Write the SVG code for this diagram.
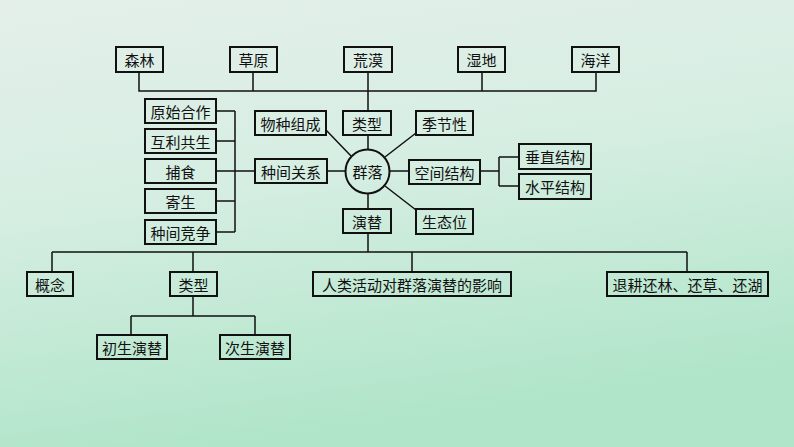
<svg xmlns="http://www.w3.org/2000/svg" width="794" height="447" viewBox="0 0 794 447">
<defs>
<linearGradient id="bg" x1="0" y1="0" x2="0.25" y2="1">
<stop offset="0" stop-color="#e4efea"/>
<stop offset="0.45" stop-color="#d6eee2"/>
<stop offset="1" stop-color="#b0e5c9"/>
</linearGradient>
<style>
.b{fill:none;stroke:#111;stroke-width:2}
.c{fill:none;stroke:#111;stroke-width:1.5}
text{font-family:"Noto Sans CJK SC","Noto Sans CJK TC",sans-serif;font-size:15px;fill:#111;text-anchor:middle;dominant-baseline:central}
</style>
</defs>
<rect width="794" height="447" fill="url(#bg)"/>
<g id="connectors" class="c">
<path d="M139 72V91H596V72M253 72V91M482 72V91M368 72V111M368 135V149M368 193V209M368 233V252M52 252H687M52 252V272M193 252V272M412 252V272M687 252V272M193 296V316M131 316H255M131 316V335M255 316V335"/>
<path d="M216 111H235M216 141H235M216 171H235M216 201H235M216 232H235M235 111V232M235 171H255M327 171H345M390 171H409M480 171H499M499 157V186M499 157H519M499 186H519"/>
<path d="M326 130L351 156M385 157L416 133M385 186L416 210"/>
</g>
<g id="n-senlin"><rect class="b" x="116" y="47" width="47" height="25"/><text x="139.5" y="59.5">森林</text></g>
<g id="n-caoyuan"><rect class="b" x="230" y="47" width="47" height="25"/><text x="253.5" y="59.5">草原</text></g>
<g id="n-huangmo"><rect class="b" x="344" y="47" width="48" height="25"/><text x="368" y="59.5">荒漠</text></g>
<g id="n-shidi"><rect class="b" x="458" y="47" width="47" height="25"/><text x="481.5" y="59.5">湿地</text></g>
<g id="n-haiyang"><rect class="b" x="572" y="47" width="47" height="25"/><text x="595.5" y="59.5">海洋</text></g>
<g id="n-yuanshi"><rect class="b" x="145" y="99" width="71" height="24"/><text x="180.5" y="111">原始合作</text></g>
<g id="n-huli"><rect class="b" x="145" y="129" width="71" height="24"/><text x="180.5" y="141">互利共生</text></g>
<g id="n-bushi"><rect class="b" x="145" y="159" width="71" height="24"/><text x="180.5" y="171">捕食</text></g>
<g id="n-jisheng"><rect class="b" x="145" y="189" width="71" height="24"/><text x="180.5" y="201">寄生</text></g>
<g id="n-jingzheng"><rect class="b" x="145" y="220" width="71" height="24"/><text x="180.5" y="232">种间竞争</text></g>
<g id="n-zhongjian"><rect class="b" x="255" y="159" width="72" height="24"/><text x="291" y="171">种间关系</text></g>
<g id="n-wuzhong"><rect class="b" x="255" y="111" width="71" height="24"/><text x="290.5" y="123">物种组成</text></g>
<g id="n-leixing1"><rect class="b" x="343" y="111" width="48" height="24"/><text x="367" y="123">类型</text></g>
<g id="n-jijie"><rect class="b" x="416" y="111" width="57" height="24"/><text x="444.5" y="123">季节性</text></g>
<g id="n-qunluo"><circle class="b" cx="367.5" cy="171.5" r="22"/><text x="367.5" y="171.5">群落</text></g>
<g id="n-kongjian"><rect class="b" x="409" y="160" width="71" height="24"/><text x="444.5" y="172">空间结构</text></g>
<g id="n-chuizhi"><rect class="b" x="519" y="144" width="72" height="25"/><text x="555" y="156.5">垂直结构</text></g>
<g id="n-shuiping"><rect class="b" x="519" y="174" width="72" height="25"/><text x="555" y="186.5">水平结构</text></g>
<g id="n-shengtai"><rect class="b" x="416" y="209" width="57" height="25"/><text x="444.5" y="221.5">生态位</text></g>
<g id="n-yanti"><rect class="b" x="343" y="209" width="48" height="24"/><text x="367" y="221">演替</text></g>
<g id="n-gainian"><rect class="b" x="27" y="272" width="46" height="24"/><text x="50" y="284">概念</text></g>
<g id="n-leixing2"><rect class="b" x="170" y="272" width="47" height="24"/><text x="193.5" y="284">类型</text></g>
<g id="n-renlei"><rect class="b" x="313" y="272" width="198" height="24"/><text x="412" y="284">人类活动对群落演替的影响</text></g>
<g id="n-tuigeng"><rect class="b" x="607" y="272" width="161" height="24"/><text x="687.5" y="284">退耕还林、还草、还湖</text></g>
<g id="n-chusheng"><rect class="b" x="97" y="335" width="70" height="24"/><text x="132" y="347">初生演替</text></g>
<g id="n-cisheng"><rect class="b" x="220" y="335" width="70" height="24"/><text x="255" y="347">次生演替</text></g>
</svg>
